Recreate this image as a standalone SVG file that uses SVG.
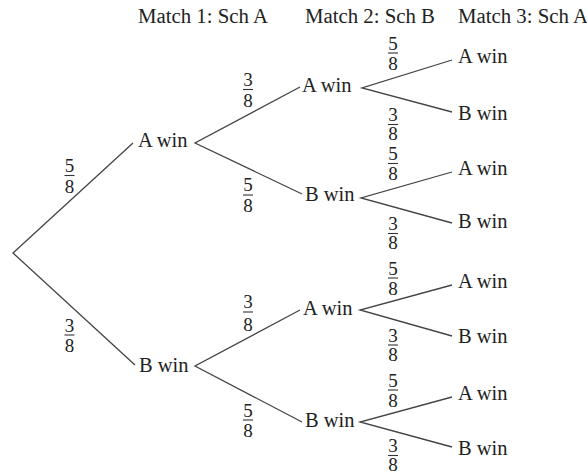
<svg xmlns="http://www.w3.org/2000/svg" width="587" height="474" viewBox="0 0 587 474">
<style>
text{font-family:"Liberation Serif","Times New Roman",serif;fill:#222;}
.lbl{font-size:20.5px;}
.hd{font-size:20.8px;}
.fr{font-size:19px;text-anchor:middle;}
.edge{stroke:#444;stroke-width:1.3;fill:none;}
.bar{stroke:#333;stroke-width:1.1;}
</style>
<rect width="587" height="474" fill="#fff"/>
<g id="headers">
<text class="hd" x="138" y="23">Match 1: Sch A</text>
<text class="hd" x="305" y="23">Match 2: Sch B</text>
<text class="hd" x="458" y="23">Match 3: Sch A</text>
</g>
<g id="connectors">
<polyline class="edge" points="133,143 13,253 135,365"/>
<polyline class="edge" points="300,87 195,143 302,194"/>
<polyline class="edge" points="300,310 195,366 302,422"/>
<polyline class="edge" points="452,60 362,88 452,112"/>
<polyline class="edge" points="452,172 361,198 452,223"/>
<polyline class="edge" points="452,285 360,310 452,336"/>
<polyline class="edge" points="452,397 360,422 452,447"/>
</g>
<g id="fractions">
<g><text class="fr" x="69.5" y="172">5</text><line class="bar" x1="64.5" y1="175.5" x2="74.5" y2="175.5"/><text class="fr" x="69.5" y="193">8</text></g>
<g><text class="fr" x="69.5" y="332">3</text><line class="bar" x1="64.5" y1="335" x2="74.5" y2="335"/><text class="fr" x="69.5" y="352">8</text></g>
<g><text class="fr" x="248" y="86">3</text><line class="bar" x1="243" y1="89.5" x2="253" y2="89.5"/><text class="fr" x="248" y="107">8</text></g>
<g><text class="fr" x="248" y="191">5</text><line class="bar" x1="243" y1="195" x2="253" y2="195"/><text class="fr" x="248" y="212">8</text></g>
<g><text class="fr" x="248" y="308">3</text><line class="bar" x1="243" y1="312" x2="253" y2="312"/><text class="fr" x="248" y="331">8</text></g>
<g><text class="fr" x="248" y="417">5</text><line class="bar" x1="243" y1="420" x2="253" y2="420"/><text class="fr" x="248" y="437">8</text></g>
<g><text class="fr" x="393" y="50">5</text><line class="bar" x1="388" y1="53" x2="398" y2="53"/><text class="fr" x="393" y="70">8</text></g>
<g><text class="fr" x="393" y="121">3</text><line class="bar" x1="388" y1="124.5" x2="398" y2="124.5"/><text class="fr" x="393" y="140">8</text></g>
<g><text class="fr" x="393" y="160">5</text><line class="bar" x1="388" y1="163.5" x2="398" y2="163.5"/><text class="fr" x="393" y="180">8</text></g>
<g><text class="fr" x="393" y="230">3</text><line class="bar" x1="388" y1="233.5" x2="398" y2="233.5"/><text class="fr" x="393" y="249">8</text></g>
<g><text class="fr" x="393" y="275">5</text><line class="bar" x1="388" y1="278" x2="398" y2="278"/><text class="fr" x="393" y="295">8</text></g>
<g><text class="fr" x="393" y="342">3</text><line class="bar" x1="388" y1="345" x2="398" y2="345"/><text class="fr" x="393" y="361">8</text></g>
<g><text class="fr" x="393" y="387">5</text><line class="bar" x1="388" y1="390" x2="398" y2="390"/><text class="fr" x="393" y="407">8</text></g>
<g><text class="fr" x="393" y="452">3</text><line class="bar" x1="388" y1="455.5" x2="398" y2="455.5"/><text class="fr" x="393" y="471">8</text></g>
</g>
<g id="n1a"><text class="lbl" x="138" y="147">A win</text></g>
<g id="n1b"><text class="lbl" x="139" y="372">B win</text></g>
<g id="n2aa"><text class="lbl" x="302" y="92">A win</text></g>
<g id="n2ab"><text class="lbl" x="305" y="201">B win</text></g>
<g id="n2ba"><text class="lbl" x="303" y="315">A win</text></g>
<g id="n2bb"><text class="lbl" x="305" y="427">B win</text></g>
<g id="n3aaa"><text class="lbl" x="458" y="63">A win</text></g>
<g id="n3aab"><text class="lbl" x="458" y="120">B win</text></g>
<g id="n3aba"><text class="lbl" x="458" y="175">A win</text></g>
<g id="n3abb"><text class="lbl" x="458" y="228">B win</text></g>
<g id="n3baa"><text class="lbl" x="458" y="288">A win</text></g>
<g id="n3bab"><text class="lbl" x="458" y="343">B win</text></g>
<g id="n3bba"><text class="lbl" x="458" y="400">A win</text></g>
<g id="n3bbb"><text class="lbl" x="458" y="455">B win</text></g>
</svg>
